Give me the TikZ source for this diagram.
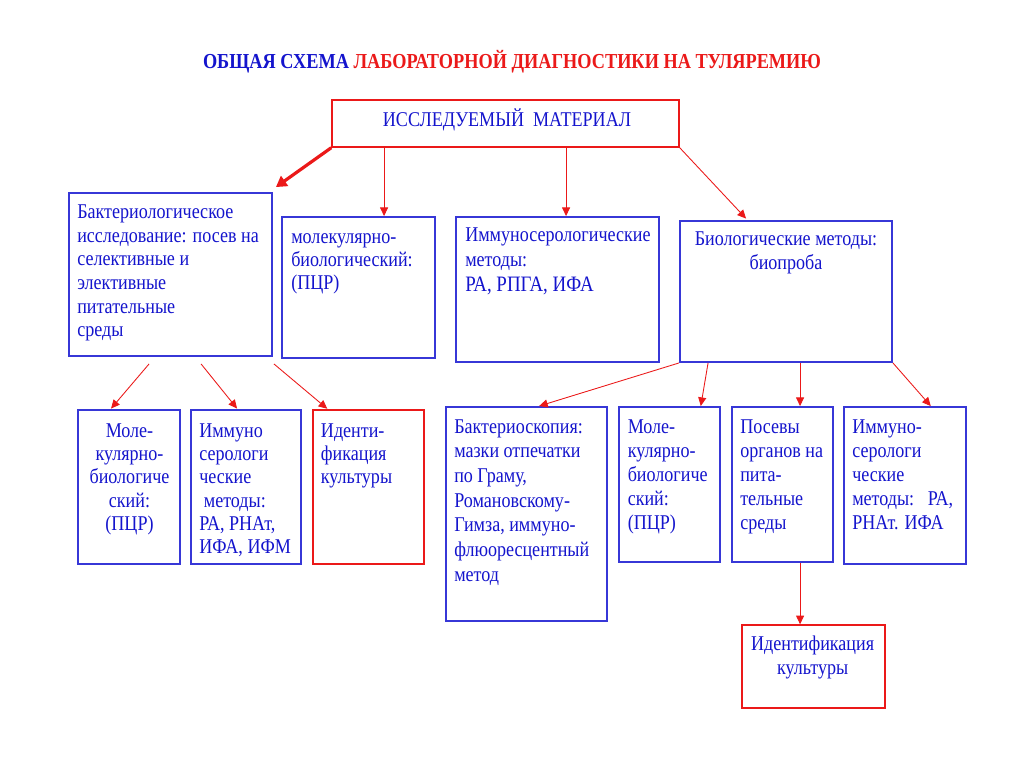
\documentclass[tikz,border=0pt]{standalone}
\usepackage{graphicx}
\usepackage{fontspec}
\setmainfont{Liberation Serif}
\usetikzlibrary{arrows.meta,fit,calc}
\definecolor{tblue}{RGB}{20,20,205}
\definecolor{bblue}{RGB}{55,55,215}
\definecolor{rred}{RGB}{235,25,25}
\newcommand{\boxtext}[3]{\scalebox{0.86}[1]{\fontsize{15.75pt}{#2}\selectfont\begin{tabular}[t]{@{}#1@{}}#3\end{tabular}}}
\begin{document}
\begin{tikzpicture}[x=0.75pt,y=-0.75pt,
  bluebox/.style={draw=bblue, line width=1.4pt, inner sep=0pt, rectangle},
  redbox/.style={draw=rred, line width=1.1pt, inner sep=0pt, rectangle},
  txt/.style={inner sep=0pt, text=tblue},
  arr/.style={draw=rred, line width=0.65pt, -{Triangle[length=6.5pt,width=6pt]}},
  thickarr/.style={draw=rred, line width=2.4pt, -{Triangle[length=8pt,width=9pt]}}]
\fill[white] (0,0) rectangle (1024,767);
\useasboundingbox (0,0) rectangle (1024,767);

% title
\node[anchor=base, inner sep=0pt] (title) at (512,69) {\resizebox{463.5pt}{\height}{\fontsize{16pt}{18pt}\selectfont\bfseries\textcolor{tblue}{ОБЩАЯ СХЕМА} \textcolor{rred}{ЛАБОРАТОРНОЙ ДИАГНОСТИКИ НА ТУЛЯРЕМИЮ}}};

% boxes
\node[redbox, fit={(332,100)(679,147)}] (top) {};
\node[bluebox, fit={(69,193)(272,356)}] (bact) {};
\node[bluebox, fit={(282,217)(435,358)}] (molec) {};
\node[bluebox, fit={(456,217)(659,362)}] (immuno) {};
\node[bluebox, fit={(680,221)(892,362)}] (biol) {};

\node[bluebox, fit={(78,410)(180,564)}] (b1) {};
\node[bluebox, fit={(191,410)(301,564)}] (b2) {};
\node[redbox, fit={(313,410)(424,564)}] (b3) {};

\node[bluebox, fit={(446,407)(607,621)}] (bs1) {};
\node[bluebox, fit={(619,407)(720,562)}] (m2) {};
\node[bluebox, fit={(732,407)(833,562)}] (p) {};
\node[bluebox, fit={(844,407)(966,564)}] (i2) {};
\node[redbox, fit={(742,625)(885,708)}] (id2) {};

% texts
\node[txt, anchor=base] (tTop) at (507,126) {\boxtext{c}{18pt}{ИССЛЕДУЕМЫЙ\ \ МАТЕРИАЛ}};
\node[txt, anchor=base west] (tBact) at (77,218.3) {\boxtext{l}{17.8pt}{Бактериологическое\\исследование: посев на\\селективные и\\элективные\\питательные\\среды}};
\node[txt, anchor=base west] (tMolec) at (291,243) {\boxtext{l}{17.6pt}{молекулярно-\\биологический:\\(ПЦР)}};
\node[txt, anchor=base west] (tImmuno) at (465,241.7) {\boxtext{l}{18.5pt}{Иммуносерологические\\методы:\\{\fontsize{16.5pt}{18.5pt}\selectfont РА, РПГА, ИФА}}};
\node[txt, anchor=base] (tBiol) at (786,245) {\boxtext{c}{18.2pt}{Биологические методы:\\биопроба}};

\node[txt, anchor=base] (tB1) at (129.5,437.3) {\boxtext{c}{17.5pt}{Моле-\\кулярно-\\биологиче\\ский:\\(ПЦР)}};
\node[txt, anchor=base west] (tB2) at (199,437) {\boxtext{l}{17.5pt}{Иммуно\\серологи\\ческие\\\hspace{4pt}методы:\\РА, РНАт,\\ИФА, ИФМ}};
\node[txt, anchor=base west] (tB3) at (320.7,437) {\boxtext{l}{17.5pt}{Иденти-\\фикация\\культуры}};

\node[txt, anchor=base west] (tBs1) at (454,433.3) {\boxtext{l}{18.5pt}{Бактериоскопия:\\мазки отпечатки\\по Граму,\\Романовскому-\\Гимза, иммуно-\\флюоресцентный\\метод}};
\node[txt, anchor=base west] (tM2) at (627.5,433) {\boxtext{l}{18pt}{Моле-\\кулярно-\\биологиче\\ский:\\(ПЦР)}};
\node[txt, anchor=base west] (tP) at (740,433) {\boxtext{l}{18pt}{Посевы\\органов на\\пита-\\тельные\\среды}};
\node[txt, anchor=base west] (tI2) at (852,433) {\boxtext{l}{18pt}{Иммуно-\\серологи\\ческие\\методы:\ \ \ РА,\\РНАт. ИФА}};
\node[txt, anchor=base] (tId2) at (812.6,650) {\boxtext{c}{18.7pt}{Идентификация\\культуры}};

% connectors from top
\coordinate (eThick) at ($(bact.north east)+(3,-5)$);
\draw[thickarr] (top.south west) -- (eThick);
\coordinate (a1) at ($(molec.north west)+(103,0)$);
\draw[arr] (top.south -| a1) -- (a1);
\coordinate (a2) at ($(immuno.north west)+(111,0)$);
\draw[arr] (top.south -| a2) -- (a2);
\coordinate (a3) at ($(biol.north west)+(67,-1.5)$);
\draw[arr] (top.south east) -- (a3);

% from bact
\coordinate (s1) at ($(bact.south west)+(81,7)$);
\coordinate (e1) at ($(b1.north west)+(34,-0.5)$);
\draw[arr] (s1) -- (e1);
\coordinate (s2) at ($(bact.south west)+(133,7)$);
\coordinate (e2) at ($(b2.north west)+(47,-0.5)$);
\draw[arr] (s2) -- (e2);
\coordinate (s3) at ($(bact.south east)+(1,7)$);
\coordinate (e3) at ($(b3.north west)+(15,-0.5)$);
\draw[arr] (s3) -- (e3);

% from biol
\coordinate (e4) at ($(bs1.north west)+(94,0)$);
\draw[arr] (biol.south west) -- (e4);
\coordinate (s5) at ($(biol.south west)+(29,0)$);
\coordinate (e5) at ($(m2.north west)+(82.7,0)$);
\draw[arr] (s5) -- (e5);
\coordinate (s6) at ($(biol.south west)+(121,0)$);
\draw[arr] (s6) -- (p.north -| s6);
\coordinate (e7) at ($(i2.north west)+(87.7,0)$);
\draw[arr] (biol.south east) -- (e7);

% posevy to identification
\draw[arr] (p.south -| s6) -- (id2.north -| s6);
\end{tikzpicture}
\end{document}
